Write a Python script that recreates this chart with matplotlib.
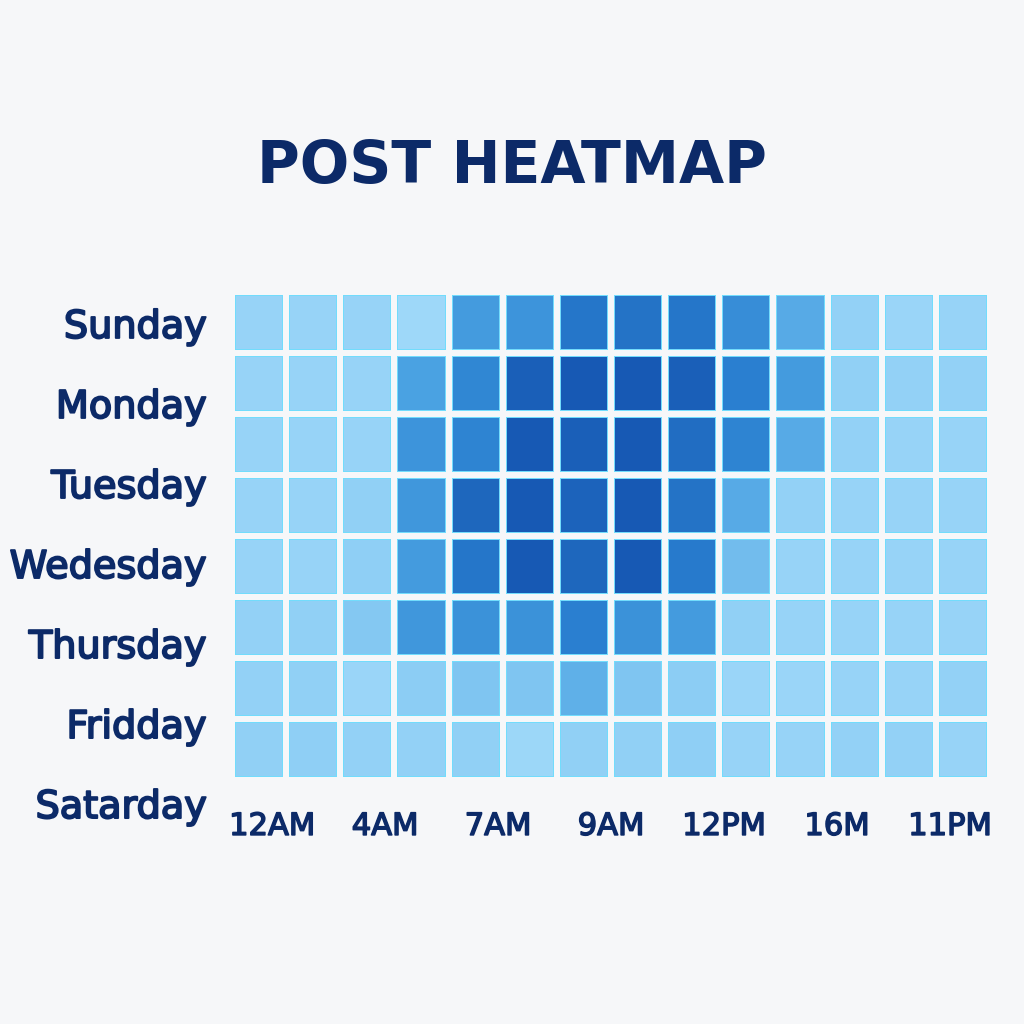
import numpy as np
import matplotlib
matplotlib.use("Agg")
import matplotlib.pyplot as plt
import matplotlib.patheffects as pe
import matplotlib.transforms as mtransforms
from matplotlib.colors import LinearSegmentedColormap

title = "POST HEATMAP"
day_labels = ["Sunday", "Monday", "Tuesday", "Wedesday", "Thursday", "Fridday", "Satarday"]
hour_labels = ["12AM", "4AM", "7AM", "9AM", "12PM", "16M", "11PM"]

row0 = [0.15, 0.15, 0.15, 0.08, 0.55, 0.60, 0.80, 0.82, 0.80, 0.65, 0.45, 0.18, 0.12, 0.15]
row1 = [0.15, 0.15, 0.15, 0.50, 0.70, 0.92, 0.95, 0.95, 0.92, 0.75, 0.55, 0.20, 0.18, 0.18]
row2 = [0.15, 0.15, 0.15, 0.60, 0.72, 0.95, 0.92, 0.95, 0.85, 0.72, 0.45, 0.18, 0.15, 0.15]
row3 = [0.15, 0.15, 0.20, 0.58, 0.88, 0.95, 0.90, 0.95, 0.82, 0.45, 0.18, 0.15, 0.15, 0.15]
row4 = [0.15, 0.15, 0.22, 0.55, 0.80, 0.95, 0.88, 0.95, 0.78, 0.35, 0.15, 0.15, 0.15, 0.15]
row5 = [0.18, 0.20, 0.28, 0.58, 0.62, 0.62, 0.75, 0.62, 0.55, 0.20, 0.15, 0.15, 0.15, 0.15]
row6 = [0.18, 0.20, 0.12, 0.25, 0.30, 0.30, 0.42, 0.30, 0.25, 0.12, 0.12, 0.15, 0.15, 0.18]
row7 = [0.20, 0.22, 0.18, 0.18, 0.20, 0.10, 0.20, 0.20, 0.22, 0.15, 0.15, 0.18, 0.18, 0.15]
values = np.array([row0, row1, row2, row3, row4, row5, row6, row7])

bg = "#f6f7f9"
navy = "#0c2a68"
cmap = LinearSegmentedColormap.from_list(
    "post", ["#a6ddfb", "#8ccdf4", "#4aa2e2", "#2a80d0", "#1350ad"])

fig = plt.figure(figsize=(10.24, 10.24), dpi=100, facecolor=bg)
ax = fig.add_axes([0.2266, 0.2383, 0.7402, 0.4766])
ax.set_facecolor(bg)

nrows, ncols = values.shape
xe = np.arange(ncols + 1)
ye = np.arange(nrows + 1)
ax.pcolormesh(xe, ye, values, cmap=cmap, vmin=0, vmax=1,
              edgecolors="#72dcfc", linewidth=4.6)
ax.pcolormesh(xe, ye, values, facecolor="none", cmap=None,
              edgecolors=bg, linewidth=3.2)

for s in ax.spines.values():
    s.set_visible(False)

stroke = [pe.withStroke(linewidth=1.1, foreground=navy)]
ax.set_xticks(np.linspace(0.74, 13.26, len(hour_labels)))
ax.set_xticklabels(hour_labels, fontsize=22, color=navy)
for t in ax.get_xticklabels():
    t.set_path_effects(stroke)
ax.set_yticks([])
ax.tick_params(axis="both", length=0)
ax.tick_params(axis="x", pad=23)
ax.set_xlim(0, ncols)
ax.set_ylim(nrows, 0)

# day labels (spaced independently of the rows, as in the original)
trans = mtransforms.blended_transform_factory(ax.transAxes, ax.transData)
day_pos = np.linspace(0.59, 8.46, len(day_labels))
for lab, yv in zip(day_labels, day_pos):
    ax.text(-0.033, yv, lab, transform=trans, ha="right", va="center",
            fontsize=27.5, color=navy, clip_on=False,
            path_effects=[pe.withStroke(linewidth=1.4, foreground=navy)])

fig.text(0.5, 0.837, title, ha="center", va="center", fontsize=42,
         fontweight="bold", color=navy)

fig.savefig("out.png", dpi=100, facecolor=bg)
